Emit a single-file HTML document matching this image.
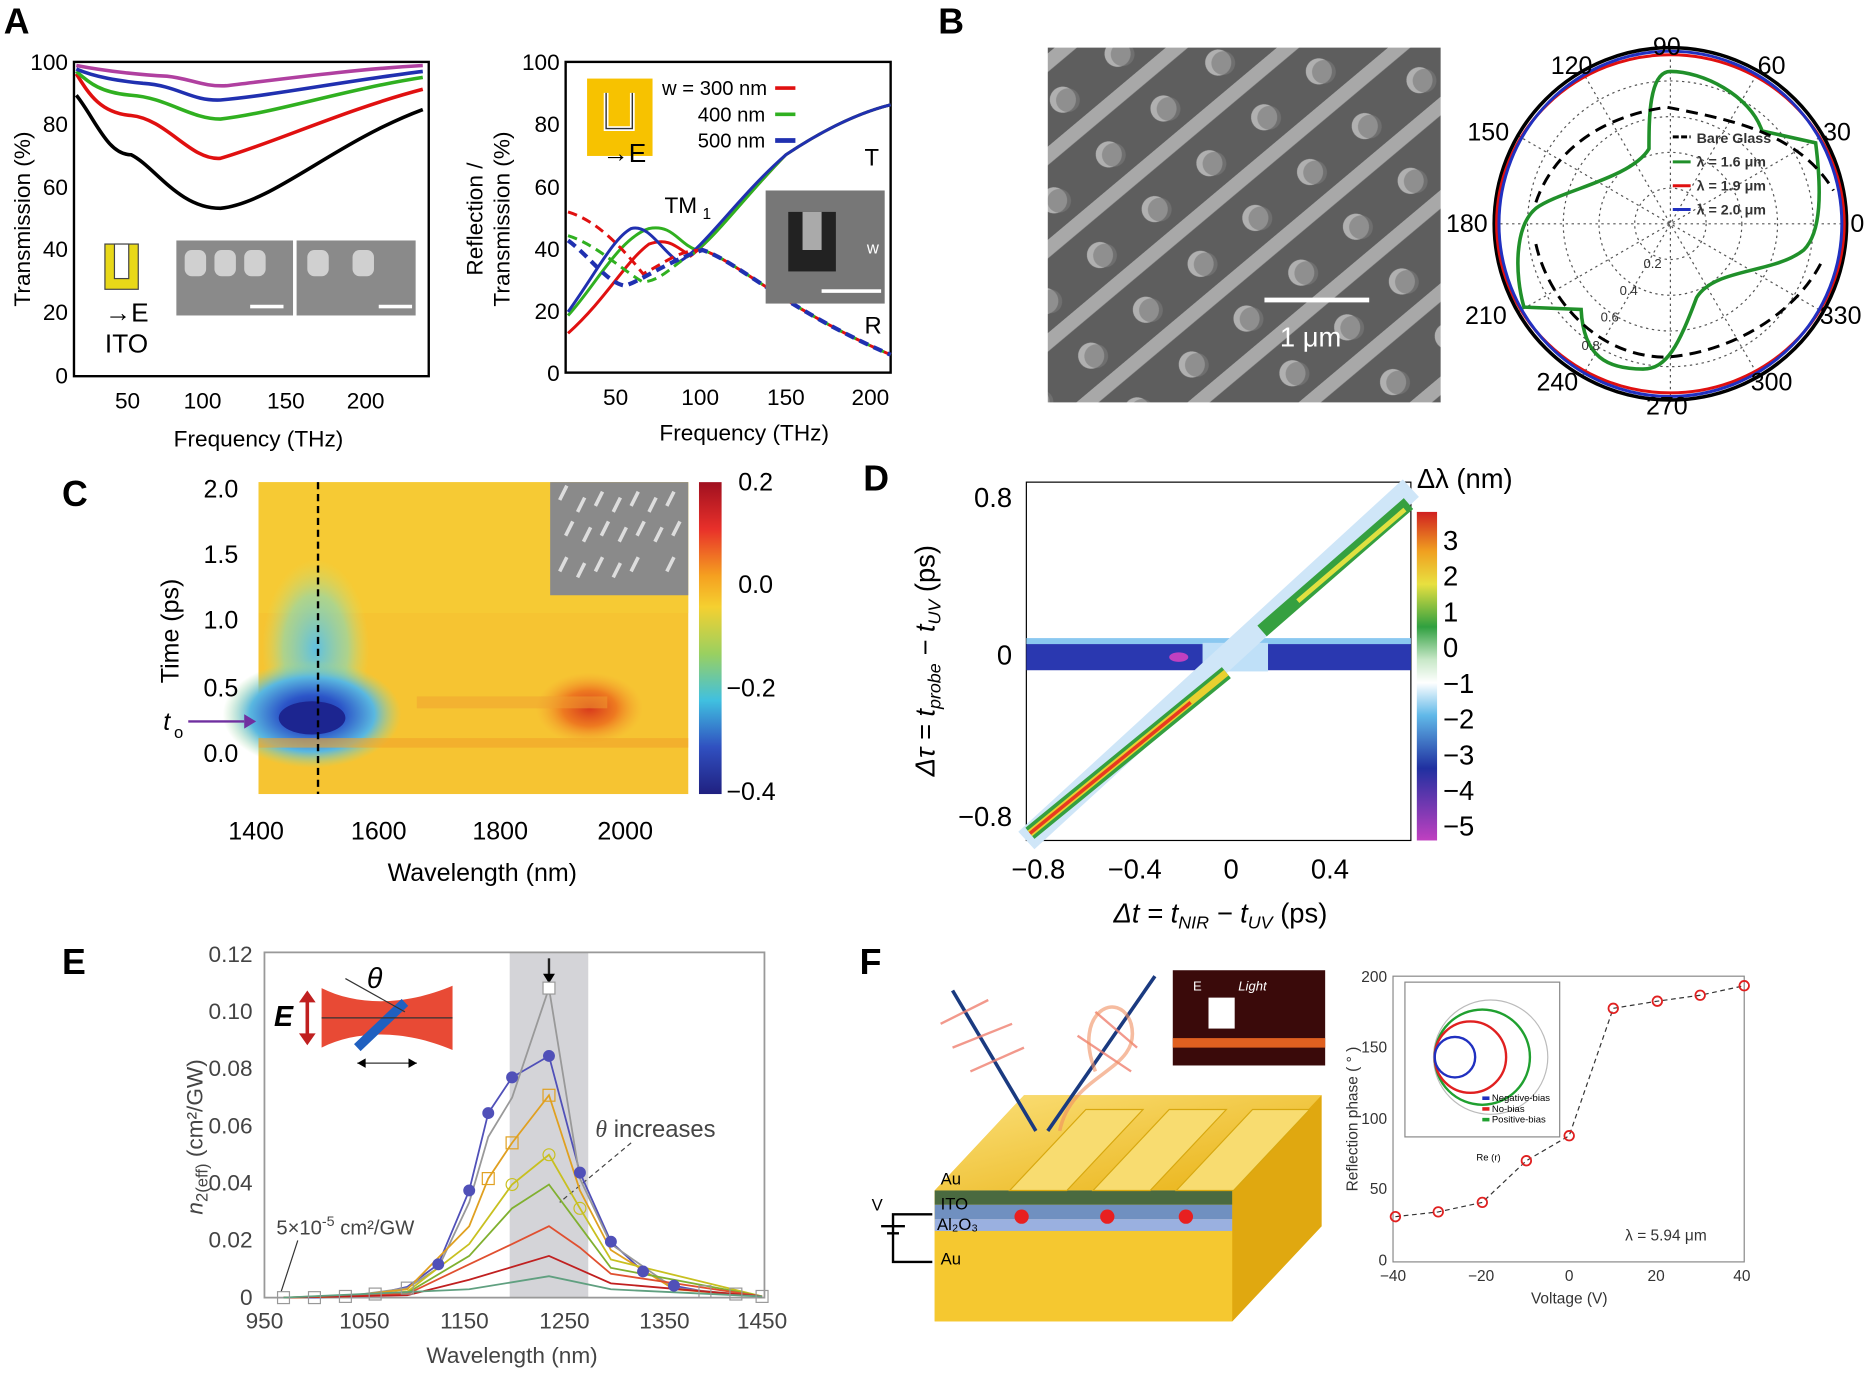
<!DOCTYPE html>
<html><head><meta charset="utf-8"><style>
html,body{margin:0;padding:0;background:#fff}
svg{display:block}
text{font-family:"Liberation Sans",sans-serif}
</style></head><body>
<svg width="1867" height="1375" viewBox="0 0 1568 1155" xmlns="http://www.w3.org/2000/svg">
<defs>
<radialGradient id="cb" cx="0.5" cy="0.5" r="0.5"><stop offset="0" stop-color="#1a2a9a"/><stop offset="0.35" stop-color="#2c55c8"/><stop offset="0.7" stop-color="#5ab8e0"/><stop offset="1" stop-color="#a0d890" stop-opacity="0"/></radialGradient>
<radialGradient id="cb2" cx="0.5" cy="0.5" r="0.5"><stop offset="0" stop-color="#60c0e0"/><stop offset="0.6" stop-color="#90d8b0" stop-opacity="0.7"/><stop offset="1" stop-color="#d0e070" stop-opacity="0"/></radialGradient>
<radialGradient id="cr" cx="0.5" cy="0.5" r="0.5"><stop offset="0" stop-color="#d83a1c"/><stop offset="0.5" stop-color="#ee7a20"/><stop offset="1" stop-color="#f5a530" stop-opacity="0"/></radialGradient>
<linearGradient id="cbar" x1="0" y1="0" x2="0" y2="1"><stop offset="0" stop-color="#a01020"/><stop offset="0.15" stop-color="#e8302a"/><stop offset="0.3" stop-color="#f5a020"/><stop offset="0.4" stop-color="#f5d030"/><stop offset="0.55" stop-color="#9ad060"/><stop offset="0.7" stop-color="#40c0e0"/><stop offset="0.85" stop-color="#3050c0"/><stop offset="1" stop-color="#202080"/></linearGradient>
<linearGradient id="dbar" x1="0" y1="0" x2="0" y2="1"><stop offset="0" stop-color="#d02020"/><stop offset="0.12" stop-color="#f0a020"/><stop offset="0.22" stop-color="#e8e040"/><stop offset="0.35" stop-color="#30a040"/><stop offset="0.45" stop-color="#c8e8c8"/><stop offset="0.52" stop-color="#ffffff"/><stop offset="0.62" stop-color="#60b8e8"/><stop offset="0.78" stop-color="#2030a0"/><stop offset="1" stop-color="#c040c0"/></linearGradient>
<linearGradient id="gold" x1="0" y1="0" x2="1" y2="1"><stop offset="0" stop-color="#fbe07a"/><stop offset="1" stop-color="#e8b010"/></linearGradient>
<pattern id="sem" width="60" height="60" patternUnits="userSpaceOnUse" patternTransform="rotate(-40)">
<rect width="60" height="60" fill="#5e5e5e"/><rect x="0" y="0" width="60" height="12" fill="#a8a8a8"/><circle cx="30" cy="38" r="11" fill="#b0b0b0"/><circle cx="33" cy="41" r="10" fill="#7a7a7a" opacity=".6"/></pattern>
</defs>

<g font-weight="bold" font-size="30">
<text x="3" y="28">A</text><text x="788" y="28">B</text><text x="52" y="425">C</text><text x="725" y="412">D</text><text x="52" y="818">E</text><text x="722" y="818">F</text></g>

<!-- A left -->
<g font-size="19">
<rect x="62" y="52" width="298" height="264" fill="none" stroke="#000" stroke-width="2"/>
<g text-anchor="end"><text x="57" y="59">100</text><text x="57" y="111">80</text><text x="57" y="164">60</text><text x="57" y="216">40</text><text x="57" y="269">20</text><text x="57" y="322">0</text></g>
<g text-anchor="middle"><text x="107" y="343">50</text><text x="170" y="343">100</text><text x="240" y="343">150</text><text x="307" y="343">200</text><text x="217" y="375">Frequency (THz)</text></g>
<text transform="translate(25,184) rotate(-90)" text-anchor="middle">Transmission (%)</text>
<g fill="none" stroke-width="3">
<path d="M64,80 C80,100 90,130 110,130 C130,140 150,175 185,175 C230,170 280,120 355,92" stroke="#000"/>
<path d="M64,62 C75,80 85,95 110,97 C140,100 160,135 185,133 C230,120 290,92 355,75" stroke="#e01010"/>
<path d="M64,60 C75,70 85,78 110,80 C140,82 160,100 185,100 C230,95 290,75 355,65" stroke="#30b020"/>
<path d="M64,58 C80,65 100,68 120,70 C150,72 160,85 185,84 C230,80 290,68 355,60" stroke="#2030b0"/>
<path d="M64,55 C90,60 120,63 140,64 C160,66 170,73 190,72 C240,66 300,58 355,55" stroke="#b040a0"/>
</g>
<rect x="88" y="205" width="28" height="38" fill="#e8d818" stroke="#444"/><rect x="96" y="205" width="12" height="29" fill="#fff" stroke="#444"/>
<text x="88" y="270" font-size="22">→E</text>
<text x="88" y="296" font-size="22">ITO</text>
<rect x="148" y="202" width="98" height="63" fill="#8a8a8a"/><rect x="249" y="202" width="100" height="63" fill="#8a8a8a"/>
<g fill="#d0d0d0"><rect x="155" y="210" width="18" height="22" rx="6"/><rect x="180" y="210" width="18" height="22" rx="6"/><rect x="205" y="210" width="18" height="22" rx="6"/><rect x="258" y="210" width="18" height="22" rx="6"/><rect x="296" y="210" width="18" height="22" rx="6"/></g>
<rect x="210" y="256" width="28" height="3" fill="#fff"/><rect x="318" y="256" width="28" height="3" fill="#fff"/>
</g>

<!-- A right -->
<g font-size="19">
<rect x="475" y="52" width="273" height="261" fill="none" stroke="#000" stroke-width="2"/>
<g text-anchor="end"><text x="470" y="59">100</text><text x="470" y="111">80</text><text x="470" y="164">60</text><text x="470" y="216">40</text><text x="470" y="268">20</text><text x="470" y="320">0</text></g>
<g text-anchor="middle"><text x="517" y="340">50</text><text x="588" y="340">100</text><text x="660" y="340">150</text><text x="731" y="340">200</text><text x="625" y="370">Frequency (THz)</text></g>
<text transform="translate(405,184) rotate(-90)" text-anchor="middle">Reflection /</text>
<text transform="translate(428,184) rotate(-90)" text-anchor="middle">Transmission (%)</text>
<g fill="none" stroke-width="2.5">
<path d="M477,280 C510,250 525,220 545,205 C560,200 565,205 580,215 C600,200 630,160 660,130 C690,110 720,95 748,88" stroke="#e01010"/>
<path d="M477,265 C500,240 520,200 545,192 C565,188 570,205 585,210 C600,200 630,160 660,130 C690,110 720,95 748,88" stroke="#30b020"/>
<path d="M477,262 C500,230 515,200 530,192 C545,188 555,210 570,220 C590,210 620,165 660,130 C690,110 720,95 748,88" stroke="#2030b0"/>
<path d="M477,178 C500,185 520,205 540,230 C560,220 570,210 590,210 C620,220 660,260 748,298" stroke="#e01010" stroke-dasharray="8,5"/>
<path d="M477,198 C500,205 520,225 540,237 C560,235 570,215 590,210 C620,220 660,260 748,298" stroke="#30b020" stroke-dasharray="8,5"/>
<path d="M477,202 C495,215 510,238 525,240 C540,235 560,220 590,210 C620,220 660,260 748,298" stroke="#2030b0" stroke-dasharray="8,5" stroke-width="3.5"/>
</g>
<rect x="493" y="66" width="55" height="65" fill="#f7c200"/>
<path d="M509,78 v30 h22 v-30" fill="none" stroke="#fff" stroke-width="4"/><path d="M509,78 v30 h22 v-30" fill="none" stroke="#333" stroke-width="1.2"/>
<text x="506" y="136" font-size="22">→E</text>
<g font-size="17"><text x="556" y="80">w = 300 nm</text><text x="586" y="102">400 nm</text><text x="586" y="124">500 nm</text></g>
<line x1="651" y1="74" x2="668" y2="74" stroke="#e01010" stroke-width="3"/><line x1="651" y1="96" x2="668" y2="96" stroke="#30b020" stroke-width="3"/><line x1="651" y1="118" x2="668" y2="118" stroke="#2030b0" stroke-width="4"/>
<text x="558" y="179">TM</text><text x="590" y="184" font-size="13">1</text>
<text x="726" y="139" font-size="20">T</text><text x="726" y="280" font-size="20">R</text>
<rect x="643" y="160" width="100" height="95" fill="#777"/><rect x="662" y="178" width="40" height="50" fill="#222"/><rect x="674" y="178" width="16" height="32" fill="#aaa"/><rect x="690" y="243" width="50" height="3" fill="#fff"/><text x="728" y="213" font-size="14" fill="#fff">w</text>
</g>

<!-- B -->
<rect x="880" y="40" width="330" height="298" fill="url(#sem)"/>
<rect x="1062" y="250" width="88" height="4" fill="#fff"/><text x="1075" y="291" font-size="23" fill="#fff">1 μm</text>
<g font-size="21" text-anchor="middle">
<g fill="none" stroke="#555" stroke-dasharray="2,3" stroke-width="1">
<circle cx="1403" cy="188" r="30"/><circle cx="1403" cy="188" r="60"/><circle cx="1403" cy="188" r="90"/><circle cx="1403" cy="188" r="120"/>
<line x1="1255" y1="188" x2="1551" y2="188"/><line x1="1403" y1="40" x2="1403" y2="336"/>
<line x1="1275" y1="114" x2="1531" y2="262"/><line x1="1275" y1="262" x2="1531" y2="114"/><line x1="1329" y1="60" x2="1477" y2="316"/><line x1="1329" y1="316" x2="1477" y2="60"/></g>
<circle cx="1403" cy="188" r="148" fill="none" stroke="#000" stroke-width="3"/>
<ellipse cx="1403" cy="188" rx="146" ry="142" fill="none" stroke="#e01010" stroke-width="2.5"/>
<ellipse cx="1403" cy="188" rx="144" ry="145" fill="none" stroke="#2030c0" stroke-width="2.5"/>
<path d="M1403,60 C1430,60 1470,80 1480,110 L1525,120 C1530,160 1530,195 1515,210 C1490,230 1440,225 1425,250 C1410,290 1400,310 1380,310 C1350,310 1330,300 1328,260 L1280,258 C1272,230 1272,190 1290,175 C1310,160 1370,150 1385,125 C1385,100 1385,60 1403,60 Z" fill="none" stroke="#20902a" stroke-width="3"/>
<path d="M1290,170 C1300,140 1330,100 1400,90 C1450,100 1510,110 1540,160 M1290,205 C1300,250 1340,300 1400,300 C1460,295 1510,260 1530,220" fill="none" stroke="#000" stroke-width="2.5" stroke-dasharray="10,6"/>
<text x="1400" y="46">90</text><text x="1320" y="62">120</text><text x="1488" y="62">60</text><text x="1250" y="118">150</text><text x="1543" y="118">30</text><text x="1232" y="195">180</text><text x="1560" y="195">0</text><text x="1248" y="272">210</text><text x="1546" y="272">330</text><text x="1308" y="328">240</text><text x="1488" y="328">300</text><text x="1400" y="348">270</text>
<g font-size="11" fill="#333"><text x="1388" y="225">0.2</text><text x="1368" y="248">0.4</text><text x="1352" y="270">0.6</text><text x="1336" y="294">0.8</text></g>
</g>
<g font-size="12" font-weight="bold" fill="#333">
<line x1="1405" y1="115" x2="1420" y2="115" stroke="#000" stroke-width="2.5" stroke-dasharray="5,2"/><text x="1425" y="120">Bare Glass</text>
<line x1="1405" y1="136" x2="1420" y2="136" stroke="#20902a" stroke-width="2.5"/><text x="1425" y="140">λ = 1.6 μm</text>
<line x1="1405" y1="156" x2="1420" y2="156" stroke="#e01010" stroke-width="2.5"/><text x="1425" y="160">λ = 1.9 μm</text>
<line x1="1405" y1="176" x2="1420" y2="176" stroke="#2030c0" stroke-width="2.5"/><text x="1425" y="180">λ = 2.0 μm</text></g>

<!-- C -->
<rect x="217" y="405" width="361" height="262" fill="#f6c432"/>
<rect x="217" y="405" width="361" height="110" fill="#f7cf36" opacity=".6"/>
<ellipse cx="265" cy="545" rx="45" ry="75" fill="url(#cb2)"/>
<ellipse cx="262" cy="600" rx="75" ry="45" fill="url(#cb)"/>
<ellipse cx="262" cy="603" rx="28" ry="14" fill="#1c2590"/>
<ellipse cx="495" cy="595" rx="45" ry="30" fill="url(#cr)"/>
<rect x="217" y="620" width="361" height="8" fill="#f2a32a" opacity=".6"/>
<rect x="350" y="585" width="160" height="10" fill="#f0a030" opacity=".5"/>
<rect x="462" y="405" width="116" height="95" fill="#8a8a8a"/>
<g stroke="#ddd" stroke-width="3"><path d="M470,420 l6,-12 M485,430 l6,-12 M500,425 l6,-12 M515,430 l6,-12 M530,425 l6,-12 M545,430 l6,-12 M560,425 l6,-12 M475,450 l6,-12 M490,455 l6,-12 M505,450 l6,-12 M520,455 l6,-12 M535,450 l6,-12 M550,455 l6,-12 M565,450 l6,-12 M470,480 l6,-12 M485,485 l6,-12 M500,480 l6,-12 M515,485 l6,-12 M530,480 l6,-12 M560,480 l6,-12"/></g>
<line x1="267" y1="405" x2="267" y2="667" stroke="#000" stroke-width="2" stroke-dasharray="6,4"/>
<rect x="587" y="405" width="19" height="262" fill="url(#cbar)"/>
<g font-size="21">
<g text-anchor="end"><text x="200" y="418">2.0</text><text x="200" y="473">1.5</text><text x="200" y="528">1.0</text><text x="200" y="585">0.5</text><text x="200" y="640">0.0</text></g>
<text x="137" y="613" font-style="italic">t</text><text x="146" y="620" font-size="14">o</text>
<line x1="158" y1="606" x2="205" y2="606" stroke="#7030a0" stroke-width="2"/><path d="M205,600 l10,6 l-10,6z" fill="#7030a0"/>
<text transform="translate(150,530) rotate(-90)" text-anchor="middle">Time (ps)</text>
<g text-anchor="middle"><text x="215" y="705">1400</text><text x="318" y="705">1600</text><text x="420" y="705">1800</text><text x="525" y="705">2000</text><text x="405" y="740">Wavelength (nm)</text></g>
<text x="620" y="412">0.2</text><text x="620" y="498">0.0</text><text x="610" y="585">−0.2</text><text x="610" y="672">−0.4</text>
</g>

<!-- D -->
<rect x="862" y="405" width="323" height="301" fill="#fff" stroke="#000"/>
<rect x="862" y="541" width="323" height="22" fill="#2a38b0"/>
<rect x="862" y="536" width="323" height="5" fill="#8ac8f0"/>
<rect x="1010" y="540" width="55" height="24" fill="#bfe0f8"/>
<path d="M862,706 L1185,410" stroke="#cfe6f8" stroke-width="20"/>
<path d="M865,700 L1030,565" stroke="#35a040" stroke-width="12"/>
<path d="M865,700 L1030,565" stroke="#e8d030" stroke-width="6"/>
<path d="M865,700 L1000,590" stroke="#e83a20" stroke-width="3"/>
<path d="M1060,530 L1183,423" stroke="#35a040" stroke-width="12"/>
<path d="M1090,505 L1180,428" stroke="#e0e040" stroke-width="4"/>
<ellipse cx="990" cy="552" rx="8" ry="4" fill="#c040c0"/>
<rect x="1190" y="430" width="17" height="276" fill="url(#dbar)"/>
<g font-size="23">
<text x="1190" y="410">Δλ (nm)</text>
<g><text x="1212" y="462">3</text><text x="1212" y="492">2</text><text x="1212" y="522">1</text><text x="1212" y="552">0</text><text x="1212" y="582">−1</text><text x="1212" y="612">−2</text><text x="1212" y="642">−3</text><text x="1212" y="672">−4</text><text x="1212" y="702">−5</text></g>
<g text-anchor="end"><text x="850" y="426">0.8</text><text x="850" y="558">0</text><text x="850" y="694">−0.8</text></g>
<g text-anchor="middle"><text x="872" y="738">−0.8</text><text x="953" y="738">−0.4</text><text x="1034" y="738">0</text><text x="1117" y="738">0.4</text></g>
<text x="1025" y="775" text-anchor="middle" font-style="italic">Δt = t<tspan font-size="15" dy="5">NIR</tspan><tspan dy="-5"> − t</tspan><tspan font-size="15" dy="5">UV</tspan><tspan dy="-5" font-style="normal"> (ps)</tspan></text>
<text transform="translate(785,555) rotate(-90)" text-anchor="middle" font-style="italic">Δτ = t<tspan font-size="15" dy="5">probe</tspan><tspan dy="-5"> − t</tspan><tspan font-size="15" dy="5">UV</tspan><tspan dy="-5" font-style="normal"> (ps)</tspan></text>
</g>

<!-- E -->
<rect x="428" y="800" width="66" height="290" fill="#d4d4d8"/>
<rect x="222" y="800" width="420" height="290" fill="none" stroke="#999" stroke-width="1.5"/>
<g font-size="19" fill="#444">
<g text-anchor="end"><text x="212" y="808">0.12</text><text x="212" y="856">0.10</text><text x="212" y="904">0.08</text><text x="212" y="952">0.06</text><text x="212" y="1000">0.04</text><text x="212" y="1048">0.02</text><text x="212" y="1096">0</text></g>
<g text-anchor="middle"><text x="222" y="1116">950</text><text x="306" y="1116">1050</text><text x="390" y="1116">1150</text><text x="474" y="1116">1250</text><text x="558" y="1116">1350</text><text x="640" y="1116">1450</text><text x="430" y="1145">Wavelength (nm)</text></g>
<text transform="translate(170,955) rotate(-90)" text-anchor="middle"><tspan font-style="italic">n</tspan><tspan font-size="14" dy="4">2(eff)</tspan><tspan dy="-4"> (cm²/GW)</tspan></text>
<text x="232" y="1037" font-size="17">5×10<tspan font-size="12" dy="-7">-5</tspan><tspan dy="7"> cm²/GW</tspan></text>
<text x="500" y="955" font-size="20"><tspan font-style="italic" font-family="Liberation Serif">θ</tspan> increases</text>
</g>
<line x1="250" y1="1042" x2="236" y2="1085" stroke="#333"/>
<line x1="530" y1="960" x2="470" y2="1010" stroke="#444" stroke-dasharray="4,3"/>
<line x1="461" y1="805" x2="461" y2="822" stroke="#222" stroke-width="2"/><path d="M456,818 l5,8 l5,-8z"/>
<g fill="none" stroke-width="1.5">
<polyline points="238,1090 264,1090 290,1089 315,1087 342,1081 368,1062 394,1000 410,935 430,905 461,887 487,985 513,1043 540,1068 566,1080 592,1085 618,1087 640,1089" stroke="#5050b8"/>
<polyline points="238,1090 290,1089 342,1082 368,1065 394,1010 410,955 430,922 461,830 487,990 513,1045 566,1082 640,1089" stroke="#999"/>
<polyline points="238,1090 290,1089 342,1083 394,1030 410,990 430,960 461,920 487,1000 513,1050 566,1083 640,1089" stroke="#e0a020"/>
<polyline points="238,1090 290,1089 342,1085 394,1045 430,995 461,970 487,1015 513,1058 640,1089" stroke="#c8c020"/>
<polyline points="238,1090 342,1086 394,1055 430,1015 461,995 487,1030 513,1065 640,1089" stroke="#80b030"/>
<polyline points="238,1090 342,1087 394,1062 430,1045 461,1030 487,1048 513,1070 640,1089" stroke="#e05030"/>
<polyline points="238,1090 342,1088 394,1075 461,1055 513,1078 640,1089" stroke="#c02020"/>
<polyline points="238,1090 394,1083 461,1072 513,1083 640,1089" stroke="#60a080"/>
</g>
<g fill="#5050b8"><circle cx="410" cy="935" r="5"/><circle cx="430" cy="905" r="5"/><circle cx="461" cy="887" r="5"/><circle cx="487" cy="985" r="5"/><circle cx="513" cy="1043" r="5"/><circle cx="540" cy="1068" r="5"/><circle cx="394" cy="1000" r="5"/><circle cx="368" cy="1062" r="5"/><circle cx="566" cy="1080" r="5"/></g>
<rect x="456" y="825" width="10" height="10" fill="#fff" stroke="#999"/>
<g fill="none" stroke="#e0a020"><rect x="456" y="915" width="10" height="10"/><rect x="425" y="955" width="10" height="10"/><rect x="405" y="985" width="10" height="10"/></g>
<g fill="none" stroke="#c8c020"><circle cx="461" cy="970" r="5"/><circle cx="430" cy="995" r="5"/><circle cx="487" cy="1015" r="5"/></g>
<g fill="none" stroke="#999"><rect x="233" y="1085" width="10" height="10"/><rect x="259" y="1085" width="10" height="10"/><rect x="285" y="1084" width="10" height="10"/><rect x="310" y="1082" width="10" height="10"/><rect x="337" y="1077" width="10" height="10"/><rect x="587" y="1080" width="10" height="10"/><rect x="613" y="1082" width="10" height="10"/><rect x="635" y="1084" width="10" height="10"/></g>
<path d="M270,830 C300,845 340,845 380,828 L380,882 C340,865 300,865 270,880 Z" fill="#e84a35"/>
<line x1="300" y1="880" x2="340" y2="842" stroke="#2060c0" stroke-width="8"/>
<line x1="270" y1="855" x2="380" y2="855" stroke="#333"/>
<line x1="290" y1="822" x2="340" y2="850" stroke="#333"/>
<line x1="300" y1="893" x2="350" y2="893" stroke="#333"/><path d="M300,893 l7,-4 v8z M350,893 l-7,-4 v8z"/>
<line x1="258" y1="835" x2="258" y2="875" stroke="#c02020" stroke-width="3"/><path d="M251,842 l7,-10 l7,10z M251,868 l7,10 l7,-10z" fill="#c02020"/>
<text x="230" y="862" font-size="24" font-weight="bold" font-style="italic">E</text>
<text x="308" y="830" font-size="24" font-style="italic" font-family="Liberation Serif">θ</text>

<!-- F device -->
<path d="M785,1000 L860,920 L1110,920 L1110,1030 L1035,1110 L785,1110 Z" fill="#f2b814"/>
<path d="M785,1000 L860,920 L1110,920 L1035,1000 Z" fill="url(#gold)"/>
<path d="M785,1000 L1035,1000 L1035,1110 L785,1110Z" fill="#f5c830"/>
<rect x="785" y="1000" width="250" height="12" fill="#4a6a40"/>
<rect x="785" y="1012" width="250" height="12" fill="#7090c0"/>
<rect x="785" y="1024" width="250" height="10" fill="#9ab0e0"/>
<path d="M1035,1000 L1110,920 L1110,1030 L1035,1110Z" fill="#e0a810"/>
<g fill="#f8dc70" stroke="#d8a810"><path d="M848,1000 L912,932 L960,932 L896,1000Z"/><path d="M918,1000 L982,932 L1030,932 L966,1000Z"/><path d="M988,1000 L1052,932 L1100,932 L1036,1000Z"/></g>
<g fill="#e82020"><circle cx="858" cy="1022" r="6"/><circle cx="930" cy="1022" r="6"/><circle cx="996" cy="1022" r="6"/></g>
<g font-size="14"><text x="790" y="995">Au</text><text x="790" y="1016">ITO</text><text x="787" y="1033">Al₂O₃</text><text x="790" y="1062">Au</text><text x="732" y="1017">V</text></g>
<path d="M783,1020 H750 V1060 H783 M740,1030 h20 M745,1036 h10" fill="none" stroke="#000" stroke-width="2"/>
<line x1="800" y1="832" x2="870" y2="950" stroke="#1a3a80" stroke-width="3"/>
<line x1="880" y1="950" x2="970" y2="820" stroke="#1a3a80" stroke-width="3"/>
<g stroke="#f08070" stroke-width="2" opacity=".8"><line x1="790" y1="860" x2="830" y2="840"/><line x1="800" y1="880" x2="850" y2="860"/><line x1="815" y1="900" x2="860" y2="880"/><line x1="905" y1="870" x2="950" y2="900"/><line x1="920" y1="850" x2="955" y2="880"/></g>
<path d="M890,950 C900,900 960,900 950,860 C940,830 900,850 920,900" fill="none" stroke="#f09060" stroke-width="3" opacity=".6"/>
<rect x="985" y="815" width="128" height="80" fill="#3a0a0a"/>
<rect x="985" y="872" width="128" height="8" fill="#e06020"/><rect x="1015" y="838" width="22" height="26" fill="#fff"/>
<text x="1040" y="832" font-size="11" fill="#fff" font-style="italic">Light</text><text x="1002" y="832" font-size="11" fill="#fff">E</text>

<!-- F graph -->
<rect x="1170" y="820" width="295" height="240" fill="none" stroke="#888"/>
<g font-size="13" fill="#333">
<g text-anchor="end"><text x="1165" y="825">200</text><text x="1165" y="884">150</text><text x="1165" y="944">100</text><text x="1165" y="1003">50</text><text x="1165" y="1063">0</text></g>
<g text-anchor="middle"><text x="1170" y="1076">−40</text><text x="1244" y="1076">−20</text><text x="1318" y="1076">0</text><text x="1391" y="1076">20</text><text x="1463" y="1076">40</text><text x="1318" y="1095">Voltage (V)</text></g>
<text transform="translate(1140,940) rotate(-90)" text-anchor="middle">Reflection phase ( ° )</text>
<text x="1365" y="1042">λ = 5.94 μm</text>
</g>
<polyline points="1172,1022 1208,1018 1245,1010 1282,975 1318,954 1355,847 1392,841 1428,836 1465,828" fill="none" stroke="#333" stroke-dasharray="4,3"/>
<g fill="none" stroke="#e02020" stroke-width="1.5"><circle cx="1172" cy="1022" r="4"/><circle cx="1208" cy="1018" r="4"/><circle cx="1245" cy="1010" r="4"/><circle cx="1282" cy="975" r="4"/><circle cx="1318" cy="954" r="4"/><circle cx="1355" cy="847" r="4"/><circle cx="1392" cy="841" r="4"/><circle cx="1428" cy="836" r="4"/><circle cx="1465" cy="828" r="4"/></g>
<rect x="1180" y="825" width="130" height="130" fill="#fff" stroke="#888"/>
<circle cx="1252" cy="888" r="48" fill="none" stroke="#bbb"/>
<circle cx="1245" cy="888" r="40" fill="none" stroke="#20a030" stroke-width="2"/>
<circle cx="1235" cy="888" r="30" fill="none" stroke="#e02020" stroke-width="2"/>
<circle cx="1222" cy="888" r="17" fill="none" stroke="#2030c0" stroke-width="2"/>
<g font-size="8"><rect x="1245" y="921" width="6" height="3" fill="#2030c0"/><text x="1253" y="925">Negative-bias</text><rect x="1245" y="930" width="6" height="3" fill="#e02020"/><text x="1253" y="934">No-bias</text><rect x="1245" y="939" width="6" height="3" fill="#20a030"/><text x="1253" y="943">Positive-bias</text><text x="1240" y="975">Re (r)</text></g>
</svg>
</body></html>
